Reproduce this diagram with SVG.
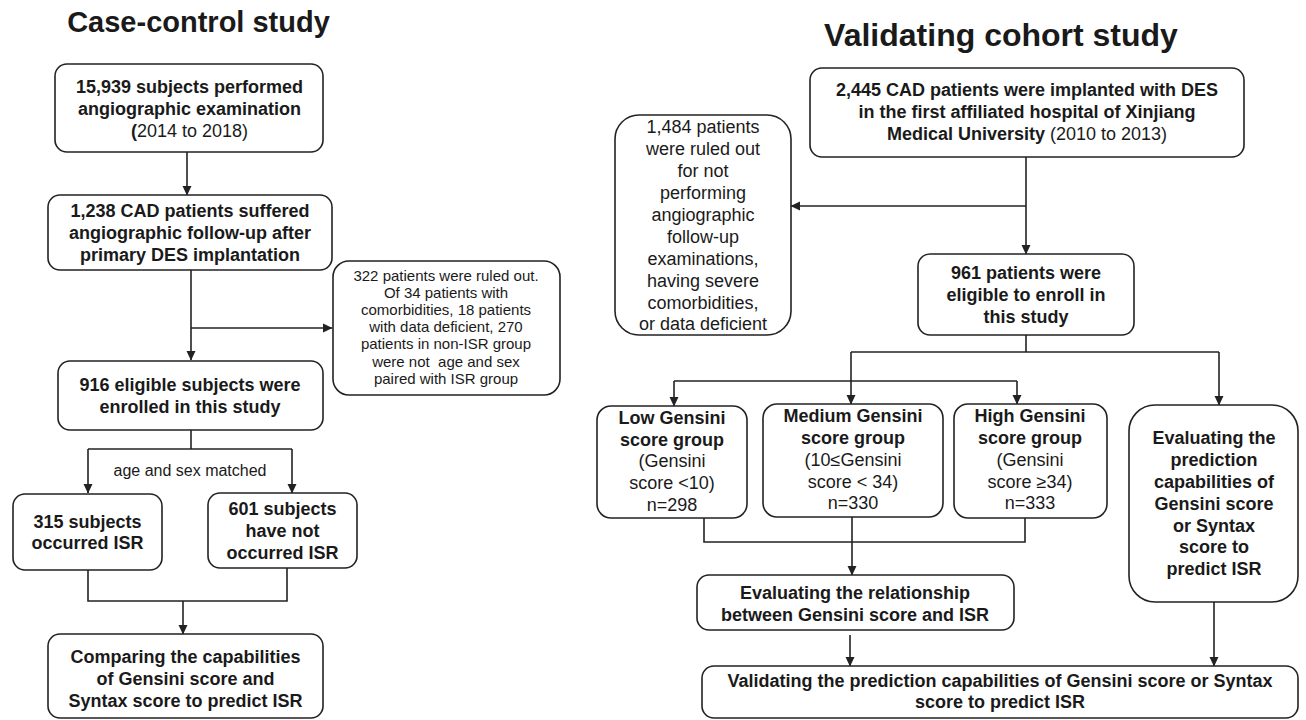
<svg xmlns="http://www.w3.org/2000/svg" width="1306" height="720" viewBox="0 0 1306 720">
<style>
.box{fill:#fff;stroke:#222;stroke-width:1.6}
.ln{fill:none;stroke:#222;stroke-width:1.6}
.arr{fill:none;stroke:#222;stroke-width:1.6;marker-end:url(#ah)}
text{font-family:"Liberation Sans",Arial,sans-serif;fill:#1a1a1a;text-anchor:middle}
.b{font-weight:bold;font-size:18px}
.n{font-weight:normal;font-size:18px}
.s{font-weight:normal;font-size:15px}
.t{font-weight:bold}
</style>
<defs>
<marker id="ah" markerWidth="10" markerHeight="10" refX="9" refY="5" orient="auto" markerUnits="userSpaceOnUse">
<path d="M0,0.5 L9.5,5 L0,9.5 Z" fill="#222"/>
</marker>
</defs>
<rect width="1306" height="720" fill="#fff"/>
<text class="t" x="198.5" y="32" font-size="29">Case-control study</text>
<text class="t" x="1001" y="46" font-size="32">Validating cohort study</text>

<g id="connectors">
<line class="arr" x1="187" y1="152" x2="187" y2="195"/>
<line class="arr" x1="191" y1="270" x2="191" y2="360"/>
<line class="arr" x1="191" y1="328" x2="332" y2="328"/>
<polyline class="ln" points="191,430 191,449"/>
<polyline class="arr" points="88,449 88,493"/>
<polyline class="arr" points="292,449 292,493"/>
<line class="ln" x1="88" y1="449" x2="292" y2="449"/>
<polyline class="ln" points="88,570 88,601 287,601 287,568"/>
<line class="arr" x1="183" y1="601" x2="183" y2="634"/>

<line class="arr" x1="1026" y1="157" x2="1026" y2="254"/>
<line class="arr" x1="1026" y1="206" x2="791" y2="206"/>
<polyline class="ln" points="1026,335 1026,352"/>
<line class="ln" x1="851" y1="352" x2="1219" y2="352"/>
<line class="arr" x1="851" y1="352" x2="851" y2="404"/>
<line class="arr" x1="1219" y1="352" x2="1219" y2="405"/>
<line class="ln" x1="674" y1="381" x2="1017" y2="381"/>
<line class="arr" x1="674" y1="381" x2="674" y2="406"/>
<line class="arr" x1="1017" y1="381" x2="1017" y2="404"/>
<polyline class="ln" points="704,518 704,542 1025,542 1025,518"/>
<line class="arr" x1="852" y1="517" x2="852" y2="575"/>
<line class="arr" x1="850" y1="635" x2="850" y2="666"/>
<line class="arr" x1="1214" y1="602" x2="1214" y2="666"/>
</g>

<g id="n1">
<rect class="box" x="55" y="64" width="268" height="88" rx="12"/>
<text class="b" x="189.5" y="93">15,939 subjects performed</text>
<text class="b" x="189.5" y="115">angiographic examination</text>
<text class="n" x="189.5" y="137"><tspan font-weight="bold">(</tspan>2014 to 2018)</text>
</g>
<g id="n2">
<rect class="box" x="48" y="195" width="284" height="75" rx="12"/>
<text class="b" x="190" y="217">1,238 CAD patients suffered</text>
<text class="b" x="190" y="239">angiographic follow-up after</text>
<text class="b" x="190" y="261">primary DES implantation</text>
</g>
<g id="n3">
<rect class="box" x="333" y="261" width="227" height="134" rx="16"/>
<text class="s" x="446" y="281">322 patients were ruled out.</text>
<text class="s" x="446" y="298">Of 34 patients with</text>
<text class="s" x="446" y="315">comorbidities, 18 patients</text>
<text class="s" x="446" y="332">with data deficient, 270</text>
<text class="s" x="446" y="349">patients in non-ISR group</text>
<text class="s" x="446" y="367" xml:space="preserve">were not  age and sex</text>
<text class="s" x="446" y="384">paired with ISR group</text>
</g>
<g id="n4">
<rect class="box" x="58" y="361" width="265" height="69" rx="12"/>
<text class="b" x="190" y="391">916 eligible subjects were</text>
<text class="b" x="190" y="413">enrolled in this study</text>
</g>
<text class="n" x="190" y="476" font-size="16" style="font-size:16px">age and sex matched</text>
<g id="n5">
<rect class="box" x="13" y="494" width="149" height="76" rx="12"/>
<text class="b" x="87.5" y="528">315 subjects</text>
<text class="b" x="87.5" y="549">occurred ISR</text>
</g>
<g id="n6">
<rect class="box" x="208" y="493" width="149" height="75" rx="12"/>
<text class="b" x="282.5" y="515">601 subjects</text>
<text class="b" x="282.5" y="537">have not</text>
<text class="b" x="282.5" y="559">occurred ISR</text>
</g>
<g id="n7">
<rect class="box" x="48" y="634" width="275" height="84" rx="12"/>
<text class="b" x="185.5" y="663">Comparing the capabilities</text>
<text class="b" x="185.5" y="685">of Gensini score and</text>
<text class="b" x="185.5" y="707">Syntax score to predict ISR</text>
</g>

<g id="r1">
<rect class="box" x="810" y="68" width="434" height="89" rx="12"/>
<text class="b" x="1027" y="96">2,445 CAD patients were implanted with DES</text>
<text class="b" x="1027" y="118">in the first affiliated hospital of Xinjiang</text>
<text class="b" x="1027" y="140">Medical University<tspan font-weight="normal"> (2010 to 2013)</tspan></text>
</g>
<g id="r2">
<rect class="box" x="615" y="115" width="176" height="220" rx="24"/>
<text class="n" x="703" y="133">1,484 patients</text>
<text class="n" x="703" y="155">were ruled out</text>
<text class="n" x="703" y="177">for not</text>
<text class="n" x="703" y="199">performing</text>
<text class="n" x="703" y="221">angiographic</text>
<text class="n" x="703" y="243">follow-up</text>
<text class="n" x="703" y="265">examinations,</text>
<text class="n" x="703" y="287">having severe</text>
<text class="n" x="703" y="309">comorbidities,</text>
<text class="n" x="703" y="330">or data deficient</text>
</g>
<g id="r3">
<rect class="box" x="918" y="254" width="216" height="81" rx="12"/>
<text class="b" x="1026" y="279">961 patients were</text>
<text class="b" x="1026" y="301">eligible to enroll in</text>
<text class="b" x="1026" y="323">this study</text>
</g>
<g id="r4">
<rect class="box" x="597" y="406" width="150" height="112" rx="14"/>
<text class="b" x="672" y="424">Low Gensini</text>
<text class="b" x="672" y="446">score group</text>
<text class="n" x="672" y="467">(Gensini</text>
<text class="n" x="672" y="489">score &lt;10)</text>
<text class="n" x="672" y="511">n=298</text>
</g>
<g id="r5">
<rect class="box" x="763" y="404" width="180" height="113" rx="14"/>
<text class="b" x="853" y="422">Medium Gensini</text>
<text class="b" x="853" y="444">score group</text>
<text class="n" x="853" y="466">(10≤Gensini</text>
<text class="n" x="853" y="488">score &lt; 34)</text>
<text class="n" x="853" y="509">n=330</text>
</g>
<g id="r6">
<rect class="box" x="954" y="404" width="153" height="114" rx="14"/>
<text class="b" x="1030" y="422">High Gensini</text>
<text class="b" x="1030" y="444">score group</text>
<text class="n" x="1030" y="466">(Gensini</text>
<text class="n" x="1030" y="488">score ≥34)</text>
<text class="n" x="1030" y="509">n=333</text>
</g>
<g id="r7">
<rect class="box" x="1129" y="405" width="169" height="197" rx="26"/>
<text class="b" x="1214" y="444">Evaluating the</text>
<text class="b" x="1214" y="466">prediction</text>
<text class="b" x="1214" y="488">capabilities of</text>
<text class="b" x="1214" y="510">Gensini score</text>
<text class="b" x="1214" y="532">or Syntax</text>
<text class="b" x="1214" y="553">score to</text>
<text class="b" x="1214" y="575">predict ISR</text>
</g>
<g id="r8">
<rect class="box" x="697" y="575" width="317" height="55" rx="12"/>
<text class="b" x="855" y="599">Evaluating the relationship</text>
<text class="b" x="855" y="621">between Gensini score and ISR</text>
</g>
<g id="r9">
<rect class="box" x="702" y="666" width="596" height="52" rx="12"/>
<text class="b" x="1000" y="687">Validating the prediction capabilities of Gensini score or Syntax</text>
<text class="b" x="1000" y="708">score to predict ISR</text>
</g>
</svg>
